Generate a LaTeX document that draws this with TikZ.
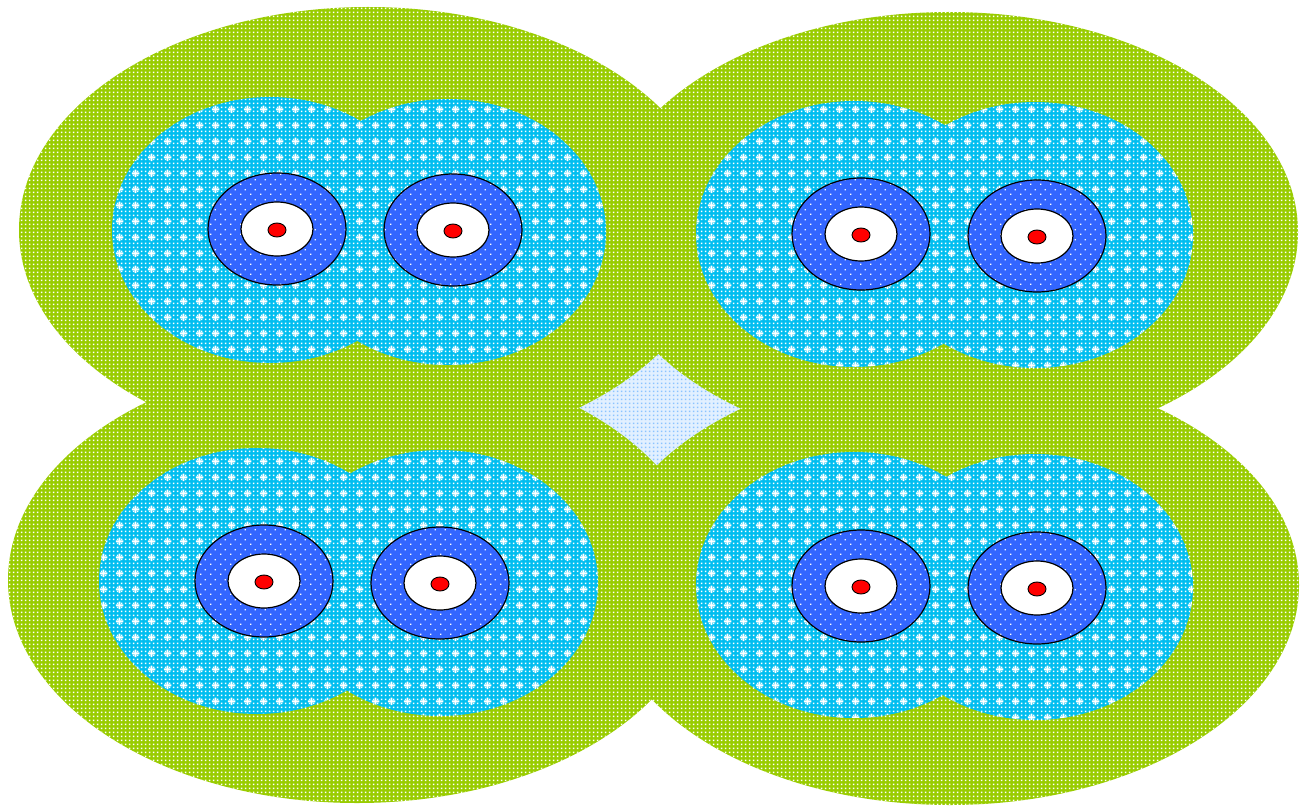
\documentclass[tikz,border=0pt]{standalone}
\usepackage{tikz}
\usetikzlibrary{patterns}
\definecolor{FieldGreen}{RGB}{153,204,0}
\definecolor{ZoneCyan}{RGB}{0,190,240}
\definecolor{RingBlue}{RGB}{51,102,255}
\definecolor{GapBlue}{RGB}{140,195,255}

\pgfdeclarepatternformonly{smallsquares}{\pgfqpoint{0pt}{0pt}}{\pgfqpoint{4pt}{4pt}}{\pgfqpoint{4pt}{4pt}}{%
  \pgfpathrectangle{\pgfqpoint{1pt}{1pt}}{\pgfqpoint{2pt}{2pt}}\pgfusepath{fill}}
\pgfdeclarepatternformonly{pluses}{\pgfqpoint{0pt}{0pt}}{\pgfqpoint{16pt}{16pt}}{\pgfqpoint{16pt}{16pt}}{%
  \pgfpathrectangle{\pgfqpoint{7pt}{4pt}}{\pgfqpoint{2pt}{8pt}}%
  \pgfpathrectangle{\pgfqpoint{4pt}{7pt}}{\pgfqpoint{8pt}{2pt}}\pgfusepath{fill}}
\pgfdeclarepatternformonly{sparsedots}{\pgfqpoint{0pt}{0pt}}{\pgfqpoint{10pt}{10pt}}{\pgfqpoint{10pt}{10pt}}{%
  \pgfpathrectangle{\pgfqpoint{0pt}{0pt}}{\pgfqpoint{1.5pt}{1.5pt}}%
  \pgfpathrectangle{\pgfqpoint{5pt}{5pt}}{\pgfqpoint{1.5pt}{1.5pt}}\pgfusepath{fill}}

\tikzset{
  gapfill/.style={preaction={fill=GapBlue!25}, pattern=smallsquares, pattern color=GapBlue},
  fieldfill/.style={preaction={fill=FieldGreen}, pattern=smallsquares, pattern color=white},
  zonefill/.style={preaction={fill=ZoneCyan}, pattern=smallsquares, pattern color=white,
                   postaction={pattern=pluses, pattern color=white}},
  ringfill/.style={draw=black, line width=1.2pt, preaction={fill=RingBlue}, pattern=sparsedots, pattern color=white},
  holefill/.style={draw=black, line width=1.2pt, fill=white},
  pinfill/.style={draw=black, line width=0.9pt, fill=red}
}

\begin{document}
\begin{tikzpicture}[x=1pt, y=-1pt]
  \def\frx{349pt} \def\zrx{158pt} \def\zry{133pt}
  \useasboundingbox (0,0) rectangle (1305,805);
  % Gap in the middle
  \path[gapfill] (560,340) rectangle (760,480);
  % Green fields, one path so they merge
  \path[fieldfill] (368,230) ellipse [x radius=\frx, y radius=223pt]
                   (949,232) ellipse [x radius=\frx, y radius=220pt]
                   (357,580) ellipse [x radius=\frx, y radius=223pt]
                   (950,585) ellipse [x radius=\frx, y radius=220pt];
  % Cyan zones, two per field
  \path[zonefill] (270,230) ellipse [x radius=\zrx, y radius=\zry]
                  (448,232) ellipse [x radius=\zrx, y radius=\zry];
  \path[zonefill] (854,234) ellipse [x radius=\zrx, y radius=\zry]
                  (1035,235) ellipse [x radius=\zrx, y radius=\zry];
  \path[zonefill] (257,581) ellipse [x radius=\zrx, y radius=\zry]
                  (440,583) ellipse [x radius=\zrx, y radius=\zry];
  \path[zonefill] (854,585) ellipse [x radius=\zrx, y radius=\zry]
                  (1035,587) ellipse [x radius=\zrx, y radius=\zry];
  % Rings with hole and pin
  \foreach \cx/\cy in {277/229, 453/230, 861/234, 1037/236, 264/581, 440/583, 861/586, 1037/588} {
    \path[ringfill] (\cx,\cy) ellipse [x radius=69pt, y radius=56pt];
    \path[holefill] (\cx,\cy) ellipse [x radius=36pt, y radius=27pt];
    \path[pinfill] (\cx,\cy+1) ellipse [x radius=9pt, y radius=7pt];
  }
\end{tikzpicture}
\end{document}
